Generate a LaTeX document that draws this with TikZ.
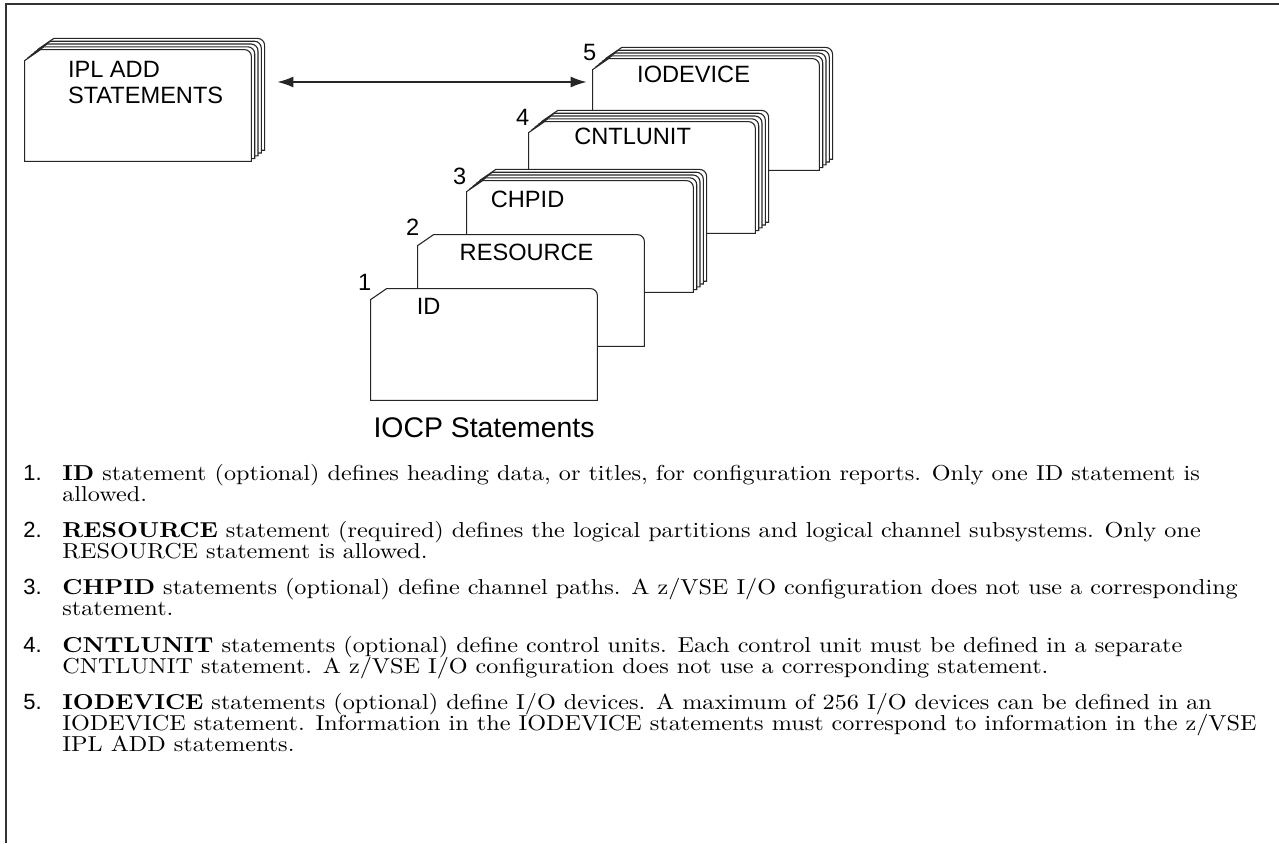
\documentclass[tikz,border=0pt]{standalone}
\usepackage{fontspec}
\newfontfamily\helv{Liberation Sans}
\newfontfamily\bodyfont{lmroman10-regular.otf}[BoldFont=lmroman10-bold.otf, FakeStretch=1.12]
\usetikzlibrary{positioning}
\usetikzlibrary{arrows.meta}
\tikzset{
    card/.style = {rectangle, minimum width=113pt, minimum height=55.5pt, inner sep=0pt},
    cardline/.style = {fill=white, draw=black!85, line width=0.55pt},
    cardlbl/.style = {font=\helv\fontsize{11.8}{13}\selectfont, inner sep=0pt},
    itemnum/.style = {anchor=base west, font=\helv\fontsize{11}{13}\selectfont, inner sep=0pt},
    itemtxt/.style = {anchor=base west, font=\bodyfont\fontsize{10.8}{13}\selectfont, inner sep=0pt}}
% outline of one punched card: node, xshift, yshift
\newcommand{\cardoutline}[3]{%
    \filldraw[cardline] ([xshift=#2,yshift=#3]#1.south west)
        -- ([xshift=#2,yshift=#3,yshift=-5.5pt]#1.north west)
        -- ([xshift=#2,yshift=#3,xshift=8pt]#1.north west)
        -- ([xshift=#2,yshift=#3,xshift=-3.5pt]#1.north east)
        arc (90:0:3.5pt)
        -- ([xshift=#2,yshift=#3]#1.south east) -- cycle;}
\begin{document}
\begin{tikzpicture}[x=0.5pt, y=-0.5pt, on grid,
    frame/.style = {draw=black!80, line width=0.75pt},
    dblarrow/.style = {{Latex[length=8pt,width=5.5pt]}-{Latex[length=8pt,width=5.5pt]}, line width=0.7pt, black!85}
    ]
    \useasboundingbox (0,0) rectangle (1279,843);
    \draw[frame] (6,843) -- (6,4) -- (1279,4);

    % cards
    \node[card] (id) at (484,344.5) {};
    \node[card] (res) [above right = 27pt and 23.5pt of id] {};
    \node[card] (chp) [above right = 27pt and 24.5pt of res] {};
    \node[card] (cu) [above right = 29.5pt and 31pt of chp] {};
    \node[card] (iod) [above right = 31.5pt and 32pt of cu] {};
    \node[card] (ipl) at (138,105.5) {};

    \foreach \k in {4,3,2,1} {\cardoutline{ipl}{\k*1.65pt}{\k*1.4pt}}
    \cardoutline{ipl}{0pt}{0pt}
    \foreach \k in {4,3,2,1} {\cardoutline{iod}{\k*1.65pt}{\k*1.4pt}}
    \cardoutline{iod}{0pt}{0pt}
    \foreach \k in {4,3,2,1} {\cardoutline{cu}{\k*1.65pt}{\k*1.4pt}}
    \cardoutline{cu}{0pt}{0pt}
    \foreach \k in {4,3,2,1} {\cardoutline{chp}{\k*1.65pt}{\k*1.4pt}}
    \cardoutline{chp}{0pt}{0pt}
    \cardoutline{res}{0pt}{0pt}
    \cardoutline{id}{0pt}{0pt}

    % card labels
    \node[cardlbl] (idl) [below right = 9pt and 29pt of id.north west, anchor=center] {ID};
    \node[cardlbl] (resl) [below right = 9pt and 54.5pt of res.north west, anchor=center] {RESOURCE};
    \node[cardlbl] (chpl) [below right = 9.5pt and 30.5pt of chp.north west, anchor=center] {CHPID};
    \node[cardlbl] (cul) [below right = 7.5pt and 52pt of cu.north west, anchor=center] {CNTLUNIT};
    \node[cardlbl] (iodl) [below right = 8pt and 50.5pt of iod.north west, anchor=center] {IODEVICE};
    \node[cardlbl, align=left] (ipll) [below right = 16.5pt and 60.5pt of ipl.north west, anchor=center] {IPL ADD\\STATEMENTS};

    % numbers
    \node[cardlbl] (n1) [above left = 3pt and 3pt of id.north west, anchor=center] {1};
    \node[cardlbl] (n2) [above left = 3.5pt and 2.5pt of res.north west, anchor=center] {2};
    \node[cardlbl] (n3) [above left = 2pt and 3.5pt of chp.north west, anchor=center] {3};
    \node[cardlbl] (n4) [above left = 2pt and 3pt of cu.north west, anchor=center] {4};
    \node[cardlbl] (n5) [above left = 3pt and 1.5pt of iod.north west, anchor=center] {5};

    \draw[dblarrow] ([xshift=13pt,yshift=11.75pt]ipl.east) -- ([xshift=-3pt,yshift=16.25pt]iod.west);

    \node[font=\helv\fontsize{14.2}{16}\selectfont, inner sep=0pt] (title) [below = 41.75pt of id] {IOCP Statements};

    % list
    \node[itemnum] (m1) at (23,480) {1.};
    \node[itemtxt] (t1a) at (62,480) {\textbf{ID} statement (optional) defines heading data, or titles, for configuration reports. Only one ID statement is};
    \node[itemtxt] (t1b) at (62,501) {allowed.};
    \node[itemnum] (m2) at (23,537) {2.};
    \node[itemtxt] (t2a) at (62,537) {\textbf{RESOURCE} statement (required) defines the logical partitions and logical channel subsystems. Only one};
    \node[itemtxt] (t2b) at (62,558) {RESOURCE statement is allowed.};
    \node[itemnum] (m3) at (23,594) {3.};
    \node[itemtxt] (t3a) at (62,594) {\textbf{CHPID} statements (optional) define channel paths. A z/VSE I/O configuration does not use a corresponding};
    \node[itemtxt] (t3b) at (62,615) {statement.};
    \node[itemnum] (m4) at (23,652) {4.};
    \node[itemtxt] (t4a) at (62,652) {\textbf{CNTLUNIT} statements (optional) define control units. Each control unit must be defined in a separate};
    \node[itemtxt] (t4b) at (62,673) {CNTLUNIT statement. A z/VSE I/O configuration does not use a corresponding statement.};
    \node[itemnum] (m5) at (23,709) {5.};
    \node[itemtxt] (t5a) at (62,709) {\textbf{IODEVICE} statements (optional) define I/O devices. A maximum of 256 I/O devices can be defined in an};
    \node[itemtxt] (t5b) at (62,730) {IODEVICE statement. Information in the IODEVICE statements must correspond to information in the z/VSE};
    \node[itemtxt] (t5c) at (62,751) {IPL ADD statements.};
\end{tikzpicture}
\end{document}
